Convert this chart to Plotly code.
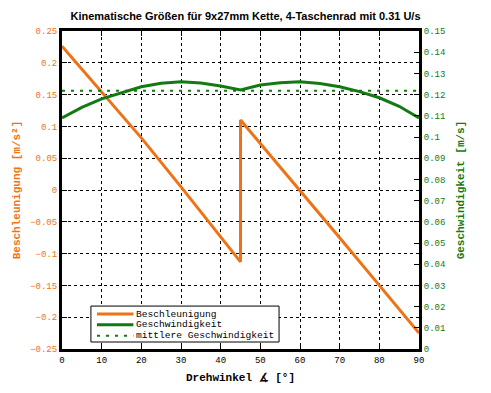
import plotly.graph_objects as go

# Acceleration [m/s^2] vs angle [deg]
acc_angle = [0, 10, 20, 30, 40, 45, 45, 50, 60, 70, 80, 90]
acc_value = [0.226, 0.154, 0.082, 0.005, -0.074, -0.113, 0.110, 0.073, 0.000, -0.075, -0.150, -0.225]

# Velocity [m/s] vs angle [deg]
vel_angle = [0, 5, 10, 15, 20, 25, 30, 35, 40, 45, 50, 55, 60, 65, 70, 75, 80, 85, 90]
vel_value = [0.109, 0.114, 0.118, 0.121, 0.1237, 0.1253, 0.1261, 0.1255, 0.1241, 0.1222,
             0.1245, 0.1256, 0.1261, 0.1252, 0.1237, 0.1214, 0.1185, 0.1145, 0.109]

# Mean velocity
mean_angle = [0, 90]
mean_value = [0.1218, 0.1218]

series_names = ["Beschleunigung", "Geschwindigkeit", "mittlere Geschwindigkeit"]

ORANGE = "#EE7316"
GREEN = "#137A13"
MONO = "Liberation Mono"

acc_line = dict(color=ORANGE, width=3)
vel_line = dict(color=GREEN, width=3)
mean_line = dict(color=GREEN, width=2, dash="3px,6px")

fig = go.Figure()
fig.add_trace(go.Scatter(x=acc_angle, y=acc_value, mode="lines", name=series_names[0],
                         line=acc_line, yaxis="y", showlegend=False))
fig.add_trace(go.Scatter(x=vel_angle, y=vel_value, mode="lines", name=series_names[1],
                         line=vel_line, yaxis="y2", showlegend=False))
fig.add_trace(go.Scatter(x=mean_angle, y=mean_value, mode="lines", name=series_names[2],
                         line=mean_line, yaxis="y2", showlegend=False))

# Compact legend box (drawn in paper coordinates, like the reference)
lx0, lx1, ly0, ly1 = 0.081, 0.608, 0.022, 0.135
fig.add_shape(type="rect", xref="paper", yref="paper", x0=lx0, x1=lx1, y0=ly0, y1=ly1,
              fillcolor="white", line=dict(color="black", width=1), layer="above")
item_y = [0.110, 0.076, 0.042]
for name, ln, yy in zip(series_names, [acc_line, vel_line, mean_line], item_y):
    fig.add_shape(type="line", xref="paper", yref="paper", x0=0.098, x1=0.200, y0=yy, y1=yy,
                  line=ln, layer="above")
    fig.add_annotation(xref="paper", yref="paper", x=0.201, y=yy, text=name, showarrow=False,
                       xanchor="left", yanchor="middle",
                       font=dict(family=MONO, size=9.6, color="black"))

fig.update_layout(
    width=491, height=393,
    margin=dict(l=62, r=72, t=31, b=44, autoexpand=False),
    paper_bgcolor="white", plot_bgcolor="white",
    title=dict(text="<b>Kinematische Größen für 9x27mm Kette, 4-Taschenrad mit 0.31 U/s</b>",
               x=0.5, xanchor="center", y=0.96, yanchor="middle",
               font=dict(family="Liberation Sans", size=11, color="black")),
    xaxis=dict(range=[0, 90], dtick=10, tick0=0, automargin=False,
               showline=True, linecolor="black", linewidth=3, mirror="ticks",
               ticks="inside", ticklen=5, tickcolor="black", tickwidth=1,
               showgrid=True, gridcolor="black", griddash="3px,3px", gridwidth=1,
               zeroline=False,
               tickfont=dict(family=MONO, size=9, color="black"),
               title=dict(text="<b>Drehwinkel ∡ [°]</b>", standoff=9,
                          font=dict(family=MONO, size=11, color="black"))),
    yaxis=dict(range=[-0.25, 0.25], dtick=0.05, tick0=0, automargin=False,
               showline=True, linecolor="black", linewidth=3, mirror=True,
               ticks="inside", ticklen=5, tickcolor="black", tickwidth=1,
               showgrid=True, gridcolor="black", griddash="3px,3px", gridwidth=1,
               zeroline=False,
               tickfont=dict(family=MONO, size=9, color=ORANGE),
               title=dict(text="<b>Beschleunigung [m/s²]</b>", standoff=8,
                          font=dict(family=MONO, size=11, color=ORANGE))),
    yaxis2=dict(range=[0, 0.15], dtick=0.01, tick0=0, overlaying="y", side="right",
                automargin=False,
                showline=True, linecolor="black", linewidth=3,
                ticks="inside", ticklen=5, tickcolor="black", tickwidth=1,
                showgrid=False, zeroline=False,
                tickfont=dict(family=MONO, size=9, color=GREEN),
                title=dict(text="<b>Geschwindigkeit [m/s]</b>", standoff=12,
                           font=dict(family=MONO, size=11, color=GREEN))),
    showlegend=False,
)

fig.write_html("out.html", config={"displayModeBar": False},
               post_script="document.body.style.margin='0px';")
